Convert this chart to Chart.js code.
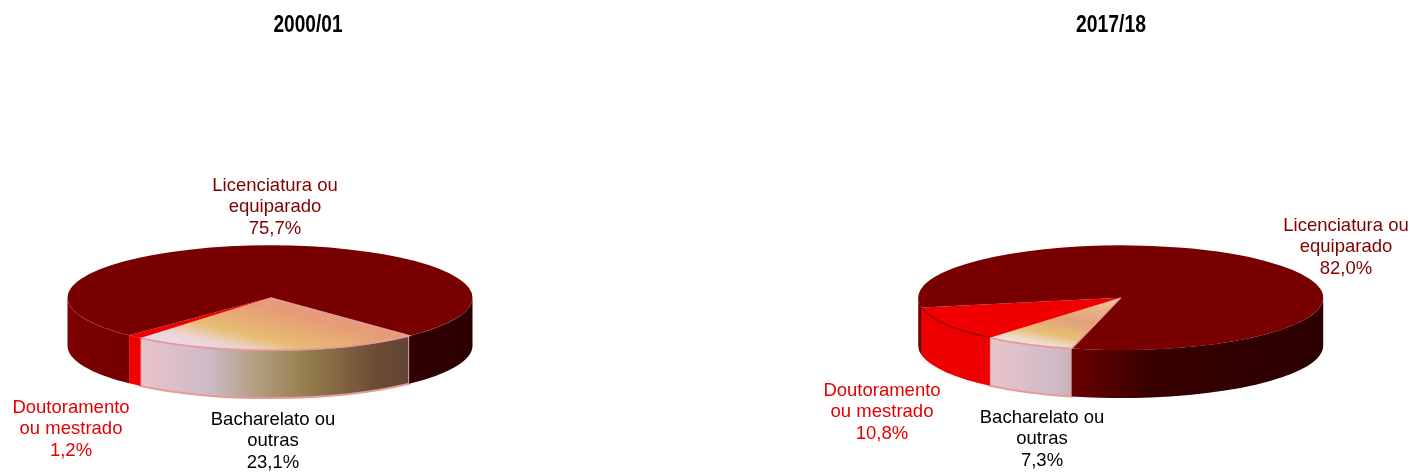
<!DOCTYPE html>
<html><head><meta charset="utf-8">
<style>
html,body{margin:0;padding:0;background:#fff;width:1415px;height:472px;overflow:hidden}
canvas{position:absolute;top:0}
#a{left:0}
#b{left:807px}
</style>
<script src="https://cdn.jsdelivr.net/npm/chart.js@4"></script>
</head><body>
<canvas id="a" width="616" height="472"></canvas>
<canvas id="b" width="608" height="472"></canvas>
<script>
const categories = ["Bacharelato ou outras", "Doutoramento ou mestrado", "Licenciatura ou equiparado"];
const labelLines = [["Bacharelato ou", "outras"], ["Doutoramento", "ou mestrado"], ["Licenciatura ou", "equiparado"]];
const values2000 = [23.1, 1.2, 75.7];
const values2017 = [7.3, 10.8, 82.0];
const titles = ["2000/01", "2017/18"];

const labelColors = ["#000000", "#e60000", "#7f0000"];
const R = 202.5, K = 0.2588, DEPTH = 48;
const FONT = '"Liberation Sans", Arial, sans-serif';

function topFill(view) {
  return function (c) {
    const colors = ["#e69a78", "#f00000", "#780000"];
    const index = c.dataIndex;
    if (index !== 0 || !c.chart.chartArea) return colors[index];
    const a = c.chart.chartArea, x0 = (a.left + a.right) / 2, y0 = (a.top + a.bottom) / 2;
    const g = c.chart.ctx.createLinearGradient(
      x0 + view.g[0], y0 + view.g[1] / K, x0 + view.g[2], y0 + view.g[3] / K);
    view.stops.forEach(s => g.addColorStop(s[0], s[1]));
    return g;
  };
}

function wallFill(ctx, view, i, arc) {
  if (i === 1) return "#ee0000";
  const g = i === 0
    ? ctx.createLinearGradient(view.cx + R * Math.cos(arc.endAngle), 0, view.cx + R * Math.cos(arc.endAngle) + 270, 0)
    : ctx.createLinearGradient(view.cx - R, 0, view.cx + R, 0);
  const stops = i === 0
    ? [[0, "#e9c4cc"], [0.26, "#cdb9c6"], [0.42, "#b49f84"], [0.6, "#98804f"], [0.88, "#6b4a34"], [1, "#5f4637"]]
    : [[0, "#7c0000"], [0.38, "#680000"], [0.58, "#380000"], [1, "#2c0000"]];
  stops.forEach(s => g.addColorStop(s[0], s[1]));
  return g;
}

function makePlugin(view, title) {
  return {
    id: "squash3d",
    beforeDatasetsDraw(chart) {
      const ctx = chart.ctx, arcs = chart.getDatasetMeta(0).data;
      const TAU = Math.PI * 2;
      arcs.forEach((arc, i) => {
        let s = arc.startAngle, e = arc.endAngle;
        while (s < 0) { s += TAU; e += TAU; }
        while (s >= TAU) { s -= TAU; e -= TAU; }
        [[0, Math.PI], [TAU, TAU + Math.PI]].forEach(w => {
          const a = Math.max(s, w[0]), b = Math.min(e, w[1]);
          if (b <= a) return;
          ctx.beginPath();
          ctx.ellipse(view.cx, view.cy, arc.outerRadius, arc.outerRadius * K, 0, a, b);
          ctx.ellipse(view.cx, view.cy + DEPTH, arc.outerRadius, arc.outerRadius * K, 0, b, a, true);
          ctx.closePath();
          ctx.fillStyle = wallFill(ctx, view, i, arc);
          ctx.fill();
          if (i === 0) { ctx.strokeStyle = "#e39b9b"; ctx.lineWidth = 2; ctx.stroke(); }
        });
      });
      const p = arcs[0];
      ctx.save();
      ctx.translate(view.cx, view.cy);
      ctx.scale(1, K);
      ctx.translate(-p.x, -p.y);
    },
    afterDatasetsDraw(chart) {
      const ctx = chart.ctx, arcs = chart.getDatasetMeta(0).data;
      ctx.restore();
      if (view.redEdge) {
        const red = arcs[1];
        ctx.beginPath();
        ctx.ellipse(view.cx, view.cy, red.outerRadius, red.outerRadius * K, 0, red.startAngle, red.endAngle);
        ctx.strokeStyle = "#8c0000";
        ctx.lineWidth = 1.2;
        ctx.stroke();
      }
      const arc = arcs[0];
      ctx.beginPath();
      ctx.moveTo(view.cx, view.cy);
      ctx.ellipse(view.cx, view.cy, arc.outerRadius, arc.outerRadius * K, 0, arc.startAngle, arc.endAngle);
      ctx.strokeStyle = "#e39b9b";
      ctx.lineWidth = 1.6;
      ctx.stroke();
    },
    afterDraw(chart) {
      const ctx = chart.ctx, vals = chart.data.datasets[0].data;
      ctx.save();
      ctx.textAlign = "center";
      ctx.textBaseline = "middle";
      ctx.font = "bold 23.5px " + FONT;
      ctx.fillStyle = "#000";
      ctx.fillText(title, chart.width / 2, 25.5, view.titleWidth);
      ctx.font = "18.5px " + FONT;
      view.labels.forEach((l, i) => {
        ctx.fillStyle = labelColors[i];
        const lines = labelLines[i].concat(vals[i].toFixed(1).replace(".", ",") + "%");
        lines.forEach((t, n) => ctx.fillText(t, l[0], l[1] + n * 21.4));
      });
      ctx.restore();
    }
  };
}

function build(id, values, title, view) {
  new Chart(document.getElementById(id), {
    type: "pie",
    data: {
      labels: categories,
      datasets: [{
        data: values,
        borderWidth: 0,
        clip: false,
        backgroundColor: topFill(view)
      }]
    },
    options: {
      responsive: false,
      animation: false,
      rotation: view.rotation,
      radius: R,
      layout: { padding: 0 },
      events: [],
      plugins: {
        legend: { display: false },
        tooltip: { enabled: false },
        title: { display: false }
      }
    },
    plugins: [makePlugin(view, title)]
  });
}

build("a", values2000, titles[0], {
  cx: 270, cy: 297.7, rotation: 136.6, redEdge: false, titleWidth: 69,
  labels: [[273, 420], [71, 408], [275, 186]],
  g: [-120, 40, 17, 2.3],
  stops: [[0, "#ecd8e4"], [0.15, "#ecd4d6"], [0.38, "#e8bc72"], [0.82, "#e69c78"], [1, "#e69c78"]]
});
build("b", values2017, titles[1], {
  cx: 313.7, cy: 297.7, rotation: 194, redEdge: true, titleWidth: 70,
  labels: [[235, 418], [75, 391], [539, 226]],
  g: [-121, 44, 0, 0],
  stops: [[0, "#f2e6ea"], [0.12, "#ecd8c8"], [0.25, "#e8c074"], [0.52, "#e2a07c"], [0.8, "#e8b888"], [1, "#f0d0a8"]]
});
</script>
</body></html>
